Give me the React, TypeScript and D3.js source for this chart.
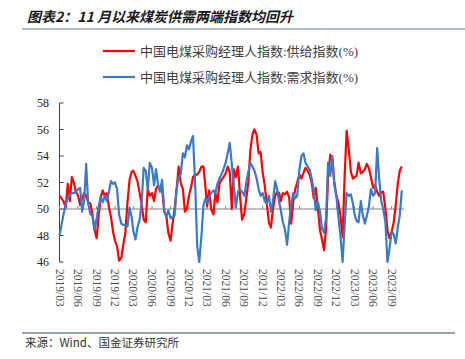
import React from "react";
import * as d3 from "d3";

const tickLabels = [
  "2019/03", "2019/06", "2019/09", "2019/12",
  "2020/03", "2020/06", "2020/09", "2020/12",
  "2021/03", "2021/06", "2021/09", "2021/12",
  "2022/03", "2022/06", "2022/09", "2022/12",
  "2023/03", "2023/06", "2023/09",
];
const yTicks = [46, 48, 50, 52, 54, 56, 58];
const seriesNames = [
  "中国电煤采购经理人指数:供给指数(%)",
  "中国电煤采购经理人指数:需求指数(%)",
];

// 供给指数, one value every ten days (1st, 11th, 21st) from 2019-03-01
const supply = [
  51.0, 50.8, 50.6, 50.1, 51.9, 50.6, 52.4, 52.0, 51.3, 51.0,
  50.3, 50.8, 51.2, 51.0, 50.5, 50.4, 49.6, 48.5, 47.8, 49.5,
  50.9, 51.4, 51.0, 51.2, 50.1, 49.4, 48.3, 47.6, 47.2, 46.1,
  46.3, 47.3, 48.2, 50.6, 52.2, 52.8, 52.9, 52.5, 52.1, 51.2,
  50.3, 49.2, 49.0, 51.5, 51.0, 51.2, 50.6, 51.5, 51.8, 51.4,
  51.5, 49.8, 49.5, 48.2, 47.6, 48.9, 50.0, 51.5, 53.2, 52.0,
  51.5, 49.8, 50.0, 51.0, 51.6, 52.4, 52.6, 52.6, 52.8, 53.2,
  53.2, 51.6, 50.2, 51.4, 50.0, 49.6, 51.2, 50.5, 51.9, 52.2,
  52.4, 52.7, 53.2, 52.8, 50.0, 53.0, 52.4, 53.2, 51.0, 49.2,
  49.6, 50.8, 52.0, 54.4, 55.6, 56.0, 55.6, 54.2, 54.3, 52.8,
  51.8, 50.5, 49.0, 48.6, 50.0, 51.0, 51.3, 51.2, 50.6, 51.2,
  51.1, 51.3, 50.9, 48.9, 50.5, 51.5, 52.0, 52.6, 52.3, 52.7,
  53.1, 52.9, 52.6, 52.0, 50.8, 51.6, 50.0, 48.4, 47.7, 46.9,
  48.5, 52.5, 54.1, 53.8, 52.0, 51.0, 50.5, 49.5, 47.9, 52.5,
  55.9, 54.4, 52.8, 52.3, 52.4, 52.5, 53.5, 52.7, 52.8, 53.0,
  53.4, 53.1, 52.4, 51.6, 51.8, 51.3, 51.0, 51.3, 51.3, 50.0,
  48.4, 47.8, 48.3, 49.0, 50.3, 51.9, 52.9, 53.2,
];

// 需求指数
const demand = [
  48.0, 48.8, 49.6, 50.4, 50.8, 51.1, 51.2, 51.2, 51.3, 51.5,
  51.6, 49.8, 50.6, 53.4, 50.4, 49.6, 49.5, 48.4, 49.3, 50.2,
  50.9, 50.5, 51.0, 50.6, 51.3, 52.1, 51.9, 52.0, 51.5, 49.6,
  48.9, 48.8, 48.8, 48.7, 50.1, 49.4, 48.3, 47.7, 48.6, 49.2,
  50.5, 53.1, 52.9, 51.4, 53.5, 53.1, 51.8, 53.0, 51.8, 51.3,
  52.2, 49.8, 49.4, 49.9, 49.3, 49.4, 49.5, 51.5, 52.4, 52.6,
  54.2, 53.9, 54.8, 54.5, 55.1, 55.5, 51.8, 47.2, 46.0, 48.0,
  50.3, 50.8, 50.5, 50.9, 51.2, 51.4, 51.2, 51.9, 52.3, 52.6,
  53.0, 53.5, 54.2, 55.0, 53.4, 51.8, 50.1, 51.3, 51.5, 51.3,
  51.0, 52.0, 52.8, 53.5, 53.2, 52.9, 52.3, 51.5, 51.0, 51.2,
  50.6, 50.4, 51.0, 49.8, 50.6, 52.1, 51.5, 50.5, 49.9, 49.0,
  48.5, 47.3, 49.0, 50.3, 51.2, 50.8, 51.0, 53.0, 54.0, 54.2,
  53.5, 53.2, 53.0, 52.3, 51.4, 49.9, 50.5, 49.8, 48.5, 48.2,
  49.3, 53.5, 52.5, 54.0, 51.8, 51.0, 49.4, 48.0, 46.0, 48.8,
  51.2, 51.0, 51.1, 50.4, 49.6, 49.1, 49.0, 50.6, 49.5, 48.9,
  49.5, 50.2, 51.5, 51.0, 51.2, 54.6, 52.3, 50.6, 50.0, 49.0,
  46.0, 47.0, 48.3, 48.1, 47.4, 48.6, 49.5, 51.4,
];

const colors = ["#ff0000", "#3b7ac8"];

function tenDayDates(n: number): Date[] {
  const days = [1, 11, 21];
  const out: Date[] = [];
  for (let k = 0; k < n; k++) {
    out.push(new Date(2019, 2 + Math.floor(k / 3), days[k % 3]));
  }
  return out;
}

export default function App() {
  const W = 465;
  const H = 359;
  const parse = d3.timeParse("%Y/%m");
  const tickDates = tickLabels.map((t) => parse(t) as Date);
  const x = d3
    .scaleTime()
    .domain([tickDates[0], tickDates[tickDates.length - 1]])
    .range([59.5, 391.7]);
  const y = d3.scaleLinear().domain([46, 58]).range([262, 103]);
  const dates = tenDayDates(supply.length);
  const line = d3
    .line<number>()
    .x((_, i) => x(dates[i]))
    .y((d) => y(d));

  const plotRight = 404;
  const serif = "'Liberation Serif', 'Noto Sans CJK SC', serif";
  const cjk = "'Noto Sans CJK SC', sans-serif";

  return (
    <svg
      width={W}
      height={H}
      style={{ position: "absolute", left: 0, top: 0, background: "#fff" }}
    >
      {/* title */}
      <text
        x={27}
        y={22}
        fontFamily={cjk}
        fontSize={14}
        fontWeight="bold"
        fontStyle="italic"
        fill="#1a1a1a"
      >
        图表2：11 月以来煤炭供需两端指数均回升
      </text>
      <line x1={22} x2={465} y1={29} y2={29} stroke="#9aa7b4" strokeWidth={1.5} />

      {/* legend */}
      {seriesNames.map((name, i) => (
        <g key={name}>
          <line
            x1={103}
            x2={135}
            y1={51 + i * 26}
            y2={51 + i * 26}
            stroke={colors[i]}
            strokeWidth={2.2}
          />
          <text
            x={140}
            y={56 + i * 26}
            fontFamily={serif}
            fontSize={13}
            fill="#404040"
          >
            {name}
          </text>
        </g>
      ))}

      {/* y axis */}
      <line x1={59.5} x2={59.5} y1={y(58)} y2={y(46)} stroke="#404040" strokeWidth={1} />
      {yTicks.map((t) => (
        <g key={t}>
          <line x1={59.5} x2={63.5} y1={y(t)} y2={y(t)} stroke="#404040" strokeWidth={1} />
          <text
            x={49}
            y={y(t)}
            dy="0.35em"
            textAnchor="end"
            fontFamily={serif}
            fontSize={12}
            fill="#262626"
          >
            {t}
          </text>
        </g>
      ))}

      {/* x axis at 50 */}
      <line x1={59.5} x2={plotRight} y1={y(50)} y2={y(50)} stroke="#808080" strokeWidth={1} />
      {tickDates.map((d, i) => (
        <line
          key={"t" + i}
          x1={x(d)}
          x2={x(d)}
          y1={y(50)}
          y2={y(50) - 3}
          stroke="#808080"
          strokeWidth={1}
        />
      ))}
      {tickDates.map((d, i) => (
        <text
          key={"l" + i}
          transform={`translate(${x(d)},269) rotate(90)`}
          dominantBaseline="central"
          textAnchor="start"
          fontFamily={serif}
          fontSize={11.5}
          fill="#4d4d4d"
        >
          {tickLabels[i]}
        </text>
      ))}

      {/* series */}
      {[supply, demand].map((s, i) => (
        <path
          key={"s" + i}
          d={line(s) || ""}
          fill="none"
          stroke={colors[i]}
          strokeWidth={2.2}
          strokeLinejoin="round"
        />
      ))}

      {/* footer */}
      <line x1={22} x2={455} y1={333} y2={333} stroke="#27456b" strokeWidth={1} />
      <text x={25} y={347} fontFamily={cjk} fontSize={11.5} fill="#333">
        来源：Wind、国金证券研究所
      </text>
    </svg>
  );
}
